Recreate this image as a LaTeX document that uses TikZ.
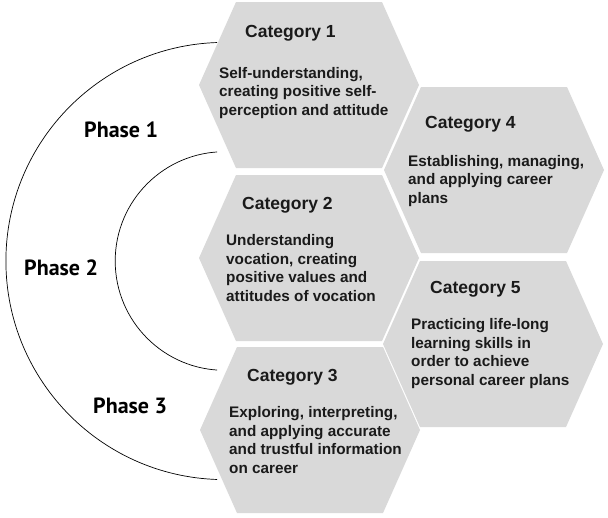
\documentclass[tikz,border=0pt]{standalone}
\usepackage{fontspec}
\setmainfont{Liberation Sans}
\newfontfamily\phasefont{PT Sans}
\usepackage{xcolor}
\usepackage{tikz}
\usetikzlibrary{calc}
\definecolor{cellgray}{RGB}{217,217,217}
\definecolor{inkgray}{RGB}{26,26,26}

\begin{document}
\begin{tikzpicture}[
		x=1pt, y=-1pt,
		cell/.style={
			fill=cellgray,
			draw=none
			},
		ring/.style={
			line width=0.7pt,
			color=black
			},
		title/.style={
			font=\fontsize{17.5}{20}\selectfont\bfseries,
			text=inkgray, anchor=base west, inner sep=0pt
			},
		body/.style={
			font=\fontsize{15.3}{18.5}\selectfont\bfseries,
			text=inkgray, align=left, anchor=base west, inner sep=0pt
			},
		phase/.style={
			font=\phasefont\fontsize{22}{26}\selectfont\bfseries,
			text=black, anchor=base west, inner sep=0pt
			}
		]
		\useasboundingbox (0,0) rectangle (608,517);
		\fill[white] (0,0) rectangle (608,517);

		% the two phase rings
		\coordinate (ringctr) at (224.5,261);
		\begin{scope}
			\clip (0,0) rectangle (217,517);
			\draw[ring] (ringctr) circle[radius=218.6];
			\draw[ring] (ringctr) circle[radius=109.3];
		\end{scope}

		\path (84,137) node[phase] (phase1) {Phase 1};
		\path (24,275) node[phase] (phase2) {Phase 2};
		\path (93,413) node[phase] (phase3) {Phase 3};

		% body nodes sit on the baseline of their last line
		\begin{scope}[shift={(309,85)}]
			\fill[cell] (-110,0) -- (-73,-83) -- (73,-83) -- (110,0) -- (73,83) -- (-73,83) -- cycle;
			\path (-64,-48) node[title] (cat1) {Category 1};
			\path (-90,30) node[body] (cat1text) {Self-understanding,\\creating positive self-\\perception and attitude};
		\end{scope}

		\begin{scope}[shift={(309,258)}]
			\fill[cell] (-110,0) -- (-73,-83) -- (73,-83) -- (110,0) -- (73,83) -- (-73,83) -- cycle;
			\path (-67,-49) node[title] (cat2) {Category 2};
			\path (-83,43) node[body] (cat2text) {Understanding\\vocation, creating\\positive values and\\attitudes of vocation};
		\end{scope}

		\begin{scope}[shift={(310,430)}]
			\fill[cell] (-110,0) -- (-73,-83) -- (73,-83) -- (110,0) -- (73,83) -- (-73,83) -- cycle;
			\path (-63,-49) node[title] (cat3) {Category 3};
			\path (-81,43) node[body] (cat3text) {Exploring, interpreting,\\and applying accurate\\and trustful information\\on career};
		\end{scope}

		\begin{scope}[shift={(494,170)}]
			\fill[cell] (-110,0) -- (-73,-83) -- (73,-83) -- (110,0) -- (73,83) -- (-73,83) -- cycle;
			\path (-69,-42) node[title] (cat4) {Category 4};
			\path (-86,33) node[body] (cat4text) {Establishing, managing,\\and applying career\\plans};
		\end{scope}

		\begin{scope}[shift={(493,344)}]
			\fill[cell] (-110,0) -- (-73,-83) -- (73,-83) -- (110,0) -- (73,83) -- (-73,83) -- cycle;
			\path (-63,-51) node[title] (cat5) {Category 5};
			\path (-82,41) node[body] (cat5text) {Practicing life-long\\learning skills in\\order to achieve\\personal career plans};
		\end{scope}

	\end{tikzpicture}
\end{document}
